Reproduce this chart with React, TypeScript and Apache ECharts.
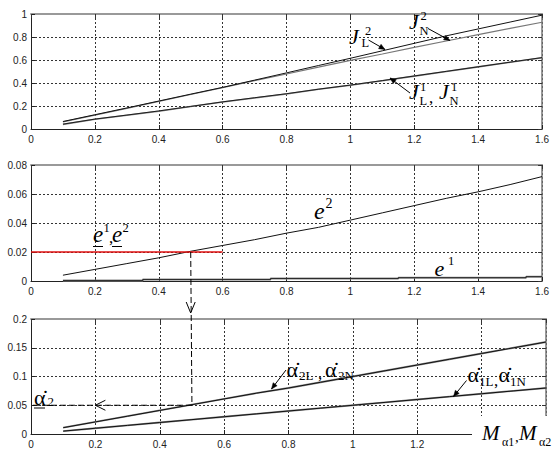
import React, { useEffect, useRef } from 'react';
import * as echarts from 'echarts';

// ---- data ----
const xs = [0.1, 0.2, 0.3, 0.4, 0.5, 0.6, 0.7, 0.8, 0.9, 1.0, 1.1, 1.2, 1.3, 1.4, 1.5, 1.6];

// panel 1: J
const J2L = [0.065, 0.124, 0.183, 0.243, 0.303, 0.362, 0.425, 0.488, 0.552, 0.615, 0.68, 0.745, 0.81, 0.87, 0.93, 0.99];
const J2N = [0.062, 0.12, 0.18, 0.24, 0.3, 0.36, 0.42, 0.478, 0.538, 0.597, 0.652, 0.71, 0.765, 0.82, 0.875, 0.928];
const J1L = [0.04, 0.085, 0.12, 0.155, 0.195, 0.235, 0.27, 0.305, 0.345, 0.38, 0.42, 0.46, 0.5, 0.54, 0.58, 0.62];
const J1N = [0.042, 0.086, 0.121, 0.157, 0.196, 0.236, 0.272, 0.307, 0.346, 0.382, 0.421, 0.461, 0.501, 0.541, 0.581, 0.621];

// panel 2: e
const E2 = [0.004, 0.008, 0.012, 0.016, 0.0205, 0.0245, 0.0285, 0.033, 0.037, 0.042, 0.047, 0.052, 0.057, 0.0615, 0.0665, 0.072];
const E1X = [0.1, 0.35, 0.35, 0.75, 0.75, 1.15, 1.15, 1.55, 1.55, 1.6];
const E1Y = [0.0003, 0.0003, 0.001, 0.001, 0.0017, 0.0017, 0.0023, 0.0023, 0.003, 0.003];
const E_LIMIT = 0.02;
const E_LIMIT_X = [0, 0.6];

// panel 3: alpha dot
const A2 = [0.011, 0.021, 0.031, 0.041, 0.051, 0.061, 0.071, 0.08, 0.09, 0.1, 0.11, 0.12, 0.13, 0.14, 0.15, 0.16];
const A1 = [0.005, 0.01, 0.015, 0.02, 0.025, 0.03, 0.035, 0.04, 0.045, 0.05, 0.055, 0.06, 0.065, 0.07, 0.075, 0.08];
const M_SEL = 0.5;
const A2_RESULT = 0.05;

// axis ranges
const X_MAX = 1.6;
const X_INT = 0.2;
const Y_MAX = [1, 0.08, 0.2];
const Y_INT = [0.2, 0.02, 0.05];
// last x tick label shown on the bottom panel (the rest is under the axis title)
const X_LABEL_LIMIT = [1.6, 1.6, 1.2];

const pairs = (x: number[], y: number[]) => x.map((v, i) => [v, y[i]]);

const SERIF = '"Liberation Serif", "Times New Roman", serif';
const SANS = '"Liberation Sans", Arial, sans-serif';

const fmt = (v: number) => String(Number(v.toFixed(3)));

function buildAxes() {
  const xAxis: any[] = [];
  const yAxis: any[] = [];
  for (let g = 0; g < 3; g++) {
    const lim = X_LABEL_LIMIT[g];
    xAxis.push({
      type: 'value', gridIndex: g, min: 0, max: X_MAX, interval: X_INT, position: 'bottom',
      axisLine: { show: true, onZero: false, lineStyle: { color: '#222', width: 1 } },
      axisTick: { show: true, inside: true, length: 4, lineStyle: { color: '#222' } },
      axisLabel: {
        fontSize: 10, color: '#222', margin: 5, fontFamily: SANS, showMaxLabel: true, showMinLabel: true,
        formatter: (v: number) => (v > lim + 1e-9 ? '' : fmt(v)),
      },
      splitLine: { show: true, lineStyle: { color: '#333', type: [2, 2], width: 1 } },
    });
    yAxis.push({
      type: 'value', gridIndex: g, min: 0, max: Y_MAX[g], interval: Y_INT[g], position: 'left',
      axisLine: { show: true, onZero: false, lineStyle: { color: '#222', width: 1 } },
      axisTick: { show: true, inside: true, length: 4, lineStyle: { color: '#222' } },
      axisLabel: { fontSize: 10, color: '#222', margin: 4, fontFamily: SANS, formatter: fmt },
      splitLine: { show: true, lineStyle: { color: '#333', type: [2, 2], width: 1 } },
    });
  }
  for (let g = 0; g < 3; g++) {
    xAxis.push({
      type: 'value', gridIndex: g, min: 0, max: X_MAX, interval: X_INT, position: 'top',
      axisLine: { show: true, onZero: false, lineStyle: { color: '#999', width: 2 } },
      axisTick: { show: true, inside: true, length: 4, lineStyle: { color: '#333' } },
      axisLabel: { show: false }, splitLine: { show: false },
    });
    yAxis.push({
      type: 'value', gridIndex: g, min: 0, max: Y_MAX[g], interval: Y_INT[g], position: 'right',
      axisLine: { show: true, onZero: false, lineStyle: { color: '#777', width: 1.5 } },
      axisTick: { show: true, inside: true, length: 4, lineStyle: { color: '#333' } },
      axisLabel: { show: false }, splitLine: { show: false },
    });
  }
  return { xAxis, yAxis };
}

const line = (g: number, data: number[][], color: string, width: number, z = 2) => ({
  type: 'line', xAxisIndex: g, yAxisIndex: g, data, showSymbol: false, symbol: 'none', silent: true, z,
  lineStyle: { color, width }, emphasis: { disabled: true },
});

function T(text: string, x: number, baseline: number, size: number, italic = false): any {
  return {
    type: 'text', x, y: baseline - 0.34 * size, z: 60, silent: true,
    style: {
      text, fontSize: size, fontFamily: SERIF, fontStyle: italic ? 'italic' : 'normal',
      fill: '#000', align: 'left', verticalAlign: 'middle',
    },
  };
}

function L(x1: number, y1: number, x2: number, y2: number, dash?: number[], width = 1): any {
  return {
    type: 'line', z: 55, silent: true,
    shape: { x1, y1, x2, y2 },
    style: { stroke: '#000', lineWidth: width, lineDash: dash || null },
  };
}

function arrow(x1: number, y1: number, x2: number, y2: number, len = 6, hw = 2.5, filled = true, dash?: number[]): any[] {
  const a = Math.atan2(y2 - y1, x2 - x1);
  const bx = x2 - len * Math.cos(a);
  const by = y2 - len * Math.sin(a);
  const px = -Math.sin(a) * hw;
  const py = Math.cos(a) * hw;
  const out: any[] = [L(x1, y1, x2, y2, dash)];
  if (filled) {
    out.push({
      type: 'polygon', z: 56, silent: true,
      shape: { points: [[x2, y2], [bx + px, by + py], [bx - px, by - py]] },
      style: { fill: '#000', stroke: '#000', lineWidth: 0.5 },
    });
  } else {
    out.push({
      type: 'polyline', z: 56, silent: true,
      shape: { points: [[bx + px, by + py], [x2, y2], [bx - px, by - py]] },
      style: { stroke: '#000', lineWidth: 1, fill: null },
    });
  }
  return out;
}

export default function App() {
  const ref = useRef<HTMLDivElement>(null);
  useEffect(() => {
    document.body.style.margin = '0';
    const chart = echarts.init(ref.current!, null, { renderer: 'svg' });
    const { xAxis, yAxis } = buildAxes();
    const option: any = {
      animation: false,
      backgroundColor: '#fff',
      grid: [
        { left: 31, right: 6, top: 14, height: 115 },
        { left: 31, right: 6, top: 165, height: 116 },
        { left: 31, right: 6, top: 319, height: 115 },
      ],
      xAxis, yAxis,
      series: [
        line(0, pairs(xs, J2N), '#777', 1.2),
        line(0, pairs(xs, J2L), '#111', 1),
        line(0, pairs(xs, J1L), '#888', 1.6),
        line(0, pairs(xs, J1N), '#111', 0.9),
        line(1, pairs(xs, E2), '#111', 1),
        line(1, pairs(E1X, E1Y), '#888', 2),
        line(1, pairs(E1X, E1Y), '#111', 0.8),
        line(1, E_LIMIT_X.map((x) => [x, E_LIMIT]), '#e01010', 1.5, 3),
        line(2, pairs(xs, A2), '#888', 1.8),
        line(2, pairs(xs, A2), '#111', 1),
        line(2, pairs(xs, A1), '#888', 1.8),
        line(2, pairs(xs, A1), '#111', 1),
      ],
    };
    chart.setOption(option);

    const P = (si: number, v: number[]) => chart.convertToPixel({ seriesIndex: si }, v) as number[];
    const pMid = P(4, [M_SEL, E_LIMIT]);
    const pBot = P(8, [M_SEL, A2_RESULT]);
    const pBotTop = P(8, [M_SEL, Y_MAX[2]]);
    const pLeft = P(8, [0, A2_RESULT]);
    const pArrowL = P(8, [0.2, A2_RESULT]);
    const dash = [6, 3];

    const g: any[] = [];
    // cover for the axis title box in bottom-right
    g.push({ type: 'rect', z: 40, silent: true, shape: { x: 472, y: 416, width: 80, height: 34 }, style: { fill: '#fff' } });

    // connector dashed path with arrows
    g.push(L(pMid[0], pMid[1], pBot[0], pBot[1], dash));
    g.push(...arrow(pMid[0], pBotTop[1] - 20, pMid[0], pBotTop[1] - 6, 11, 4.5, false).slice(1));
    g.push(L(pBot[0], pBot[1], pLeft[0], pLeft[1], dash));
    g.push(...arrow(pArrowL[0] + 20, pArrowL[1], pArrowL[0], pArrowL[1], 10, 5, false).slice(1));

    // J labels
    g.push(T('J', 349, 44, 22, true), T('2', 365, 35, 12.5), T('L', 361.5, 47, 12.5));
    g.push(...arrow(368.5, 40, 385, 49.5, 6, 2.5));
    g.push(T('J', 409, 29, 22, true), T('2', 420.5, 20.5, 12.5), T('N', 419.5, 35, 12.5));
    g.push(...arrow(428, 28.5, 450, 40.5, 6, 2.5));
    g.push(T('J', 409, 99, 22, true), T('1', 420, 91.5, 12.5), T('L', 419.5, 105.5, 12.5), T(',', 429, 103, 17));
    g.push(T('J', 439, 99, 22, true), T('1', 451, 91.5, 12.5), T('N', 449.5, 105.5, 12.5));
    g.push(...arrow(410, 93, 390, 78, 6, 2.5));

    // e labels
    g.push(T('e', 314, 219.5, 24, true), T('2', 325.5, 208, 14));
    g.push(T('e', 434.5, 275.5, 22, true), T('1', 448, 265, 12.5));
    g.push(T('e', 93, 242.5, 23, true), T('1', 103.5, 232.5, 12.5), T(',', 109, 243, 17));
    g.push(T('e', 112, 242.5, 23, true), T('2', 122.5, 232.5, 12.5));
    g.push(L(93, 246.5, 103, 246.5), L(112, 246.5, 122, 246.5));

    // alpha labels
    g.push(T('\u03B1\u0307', 286.5, 377, 22), T('2L', 299, 379.5, 13), T(',', 318, 379, 17));
    g.push(T('\u03B1\u0307', 325, 377, 22), T('2N', 338, 379.5, 13));
    g.push(...arrow(286, 370, 271.5, 389, 6, 2.5));
    g.push(T('\u03B1\u0307', 467.5, 381.5, 22), T('1L', 479, 386, 13), T(',', 494, 386, 17));
    g.push(T('\u03B1\u0307', 498.5, 381.5, 22), T('1N', 510, 386, 13));
    g.push(...arrow(466.5, 380.5, 453.5, 396.5, 6, 2.5));
    g.push(T('\u03B1\u0307', 34, 405, 22), T('2', 47.5, 406, 13));
    g.push(L(34, 408, 45, 408));

    // axis title M_a1, M_a2
    g.push(T('M', 482, 440, 21, true), T('\u03B11', 502, 446, 12), T(',', 515, 442, 15));
    g.push(T('M', 519, 440, 21, true), T('\u03B12', 539, 446, 12));

    chart.setOption({ graphic: g });
    return () => chart.dispose();
  }, []);
  return <div ref={ref} style={{ width: 552, height: 450 }} />;
}
